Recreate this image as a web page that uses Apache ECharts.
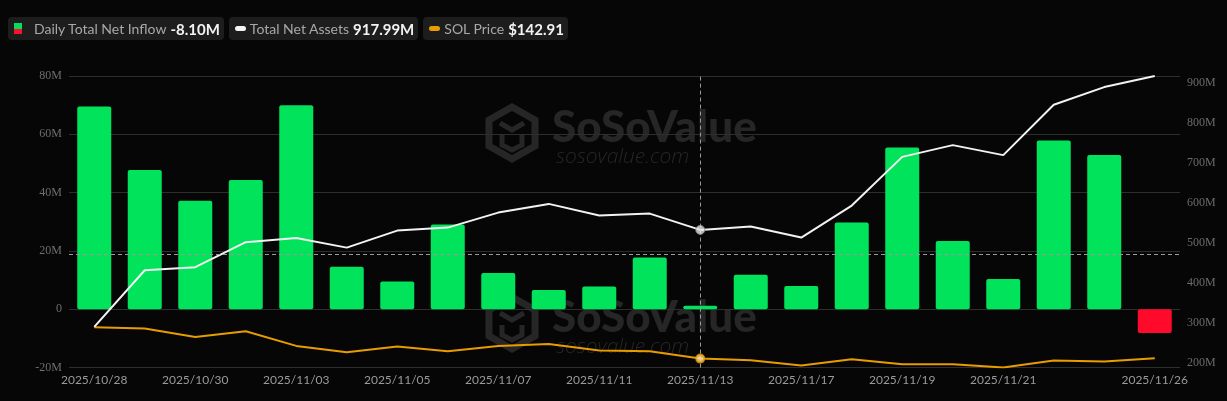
<!DOCTYPE html>
<html>
<head>
<meta charset="utf-8">
<script src="https://cdn.jsdelivr.net/npm/echarts@6/dist/echarts.min.js"></script>
<style>
html,body{margin:0;padding:0;background:#060606;}
#wrap{position:relative;width:1227px;height:401px;background:#060606;overflow:hidden;}
#chart{position:absolute;left:0;top:0;width:1227px;height:401px;}
#legend{position:absolute;left:8px;top:17px;display:flex;font-family:Lato,"Noto Sans",sans-serif;z-index:5;}
.lg{display:flex;align-items:center;height:23px;background:#1d1d1d;border-radius:4px;padding:0 4px 0 6px;margin-right:5px;}
.lg .t{color:#a8a8a8;font-size:14px;}
.lg .v{color:#f2f2f2;font-size:15px;font-weight:bold;margin-left:4px;}
.ic1{width:8px;height:11px;margin-right:12px;display:flex;flex-direction:column;}
.ic1 span{flex:1;}
.ic2{width:11px;height:5px;border-radius:3px;margin-right:4px;}
</style>
</head>
<body>
<div id="wrap">
<div id="chart"></div>
<div id="legend">
  <div class="lg"><div class="ic1"><span style="background:#00e05a"></span><span style="background:#ff1030"></span></div><span class="t">Daily Total Net Inflow</span><span class="v">-8.10M</span></div>
  <div class="lg"><div class="ic2" style="background:#f4f4f4"></div><span class="t">Total Net Assets</span><span class="v">917.99M</span></div>
  <div class="lg"><div class="ic2" style="background:#e89c00"></div><span class="t">SOL Price</span><span class="v">$142.91</span></div>
</div>
</div>
<script>
const dates = ['2025/10/28','2025/10/29','2025/10/30','2025/10/31','2025/11/03','2025/11/04','2025/11/05','2025/11/06','2025/11/07','2025/11/10','2025/11/11','2025/11/12','2025/11/13','2025/11/14','2025/11/17','2025/11/18','2025/11/19','2025/11/20','2025/11/21','2025/11/24','2025/11/25','2025/11/26'];
const netInflow = [69.5,47.8,37.2,44.3,70.0,14.6,9.5,29.1,12.4,6.6,7.8,17.8,1.2,11.8,8.0,29.8,55.5,23.4,10.4,57.9,52.9,-8.10];
const netAssets = [289.5,431.6,439.1,501.8,512.5,488.2,530.8,538.3,575.9,597.7,568.4,573.4,532.6,540.9,513.3,593.5,715.5,744.9,719.8,845.9,890.2,917.99];
const solPrice = [196.0,193.8,179.6,189.2,164.2,153.2,163.0,154.9,164.2,167.6,156.1,154.9,142.4,139.5,130.4,141.2,132.6,132.6,127.0,139.0,137.3,142.91];
const leftTicks = [-20,0,20,40,60,80];
const rightTicks = [200,300,400,500,600,700,800,900];
const focusIndex = 12;
const crossValue = 19;

const chart = echarts.init(document.getElementById('chart'), null, {renderer:'canvas'});

function watermark(cy){
  const col = '#262626';
  return {
    type:'group', z:-10, silent:true,
    children:[
      {type:'polygon', z:-10, shape:{points:[[512,cy-26],[535,cy-13],[535,cy+13],[512,cy+26],[489,cy+13],[489,cy-13]]}, style:{fill:'none', stroke:col, lineWidth:7}},
      {type:'polyline', z:-10, shape:{points:[[500,cy-10],[512,cy-3],[524,cy-10]]}, style:{fill:'none', stroke:col, lineWidth:5}},
      {type:'polyline', z:-10, shape:{points:[[502,cy+2],[502,cy+12],[512,cy+17],[522,cy+12],[522,cy+2]]}, style:{fill:'none', stroke:col, lineWidth:5}},
      {type:'text', z:-10, left:552, top:cy-27, style:{text:'SoSoValue', fill:col, font:'900 44px Lato, "Noto Sans", sans-serif'}},
      {type:'text', z:-10, left:556, top:cy+14, style:{text:'sosovalue.com', fill:col, font:'italic 300 21px "Open Sans", Lato, sans-serif'}}
    ]
  };
}

const option = {
  backgroundColor:'#060606',
  animation:false,
  graphic:[watermark(133), watermark(323)],
  grid:{left:69, right:47, top:76, bottom:33.4, containLabel:false},
  xAxis:{
    type:'category', data:dates, boundaryGap:true,
    axisLine:{show:false}, axisTick:{show:false},
    axisLabel:{
      color:'#9a9a9a', fontSize:12, fontFamily:'Lato, "Noto Sans", sans-serif', margin:7,
      interval:function(i){ return (i%2===0 && i<=18) || i===dates.length-1; }
    },
    splitLine:{show:false}
  },
  yAxis:[
    {type:'value', min:-20, max:80, interval:20, position:'left',
     axisLine:{show:false}, axisTick:{show:false},
     axisLabel:{color:'#6e6e6e', fontSize:12, fontFamily:'"Liberation Serif","DejaVu Serif",serif', margin:7,
       customValues:leftTicks,
       formatter:function(v){return v===0?'0':v+'M';}},
     splitLine:{lineStyle:{color:'#2e2e2e', width:1}}},
    {type:'value', min:187.7, max:917.99, position:'right',
     axisLine:{show:false}, axisTick:{show:false},
     axisLabel:{color:'#6a6a6a', fontSize:12, fontFamily:'"Liberation Serif","DejaVu Serif",serif', margin:7,
       customValues:rightTicks, formatter:function(v){return v+'M';}},
     splitLine:{show:false}},
    {type:'value', min:127.0, max:626.5, show:false, splitLine:{show:false}}
  ],
  series:[
    {name:'Daily Total Net Inflow', type:'bar', yAxisIndex:0, barWidth:34,
     data:netInflow.map(function(v){return {value:v, itemStyle:{color: v>=0 ? '#00e35b' : '#ff0a2a', borderRadius:2}};}),
     markLine:{silent:true, symbol:'none', label:{show:false},
       lineStyle:{color:'#9a9a9a', type:[4,3], width:1},
       data:[{xAxis:focusIndex},{yAxis:crossValue}]},
     z:2},
    {name:'Total Net Assets', type:'line', yAxisIndex:1, data:netAssets, showSymbol:false,
     lineStyle:{color:'#f2f2f2', width:2}, itemStyle:{color:'#f2f2f2'}, z:4},
    {name:'SOL Price', type:'line', yAxisIndex:2, data:solPrice, showSymbol:false,
     lineStyle:{color:'#e89c00', width:2}, itemStyle:{color:'#e89c00'}, z:3},
    {type:'scatter', yAxisIndex:1, z:6, symbolSize:9,
     data:netAssets.map(function(v,i){return i===focusIndex?v:'-';}),
     itemStyle:{color:'#e6e6e6', borderColor:'#8a8a8a', borderWidth:1}},
    {type:'scatter', yAxisIndex:2, z:6, symbolSize:8,
     data:solPrice.map(function(v,i){return i===focusIndex?v:'-';}),
     itemStyle:{color:'#ffe7a0', borderColor:'#e89c00', borderWidth:2}}
  ]
};
chart.setOption(option);
</script>
</body>
</html>
